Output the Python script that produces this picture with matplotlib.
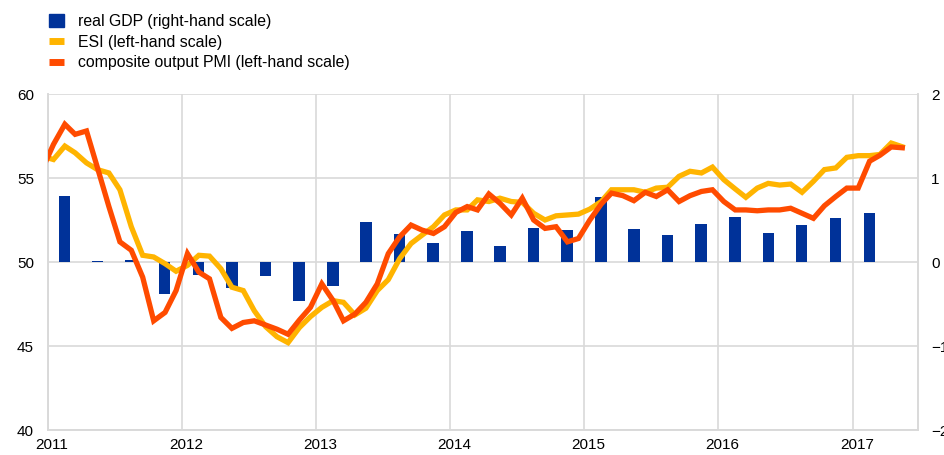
import matplotlib
matplotlib.use('Agg')
import matplotlib.pyplot as plt
import matplotlib.dates as mdates
import matplotlib.transforms as mtransforms
from matplotlib.patches import Patch
from matplotlib.lines import Line2D
import pandas as pd
import numpy as np

plt.rcParams['font.family'] = ['Liberation Sans', 'DejaVu Sans']

# monthly data, Dec 2010 - May 2017
pmi = [55.5, 57.0, 58.2, 57.6, 57.8, 55.6, 53.3, 51.2, 50.7, 49.1, 46.5, 47.0, 48.3,
       50.5, 49.4, 49.0, 46.7, 46.05, 46.4, 46.5, 46.25, 46.0, 45.7, 46.55, 47.3,
       48.7, 47.7, 46.5, 46.9, 47.6, 48.7, 50.5, 51.5, 52.2, 51.9, 51.7, 52.1,
       52.95, 53.3, 53.1, 54.05, 53.5, 52.8, 53.8, 52.5, 52.0, 52.1, 51.2, 51.4,
       52.5, 53.45, 54.1, 53.95, 53.65, 54.15, 53.9, 54.3, 53.6, 53.95, 54.2, 54.3,
       53.6, 53.1, 53.1, 53.05, 53.1, 53.1, 53.2, 52.9, 52.6, 53.35, 53.9, 54.4,
       54.4, 56.0, 56.35, 56.85, 56.8]
esi = [56.3, 56.1, 56.9, 56.5, 55.9, 55.5, 55.3, 54.3, 52.1, 50.4, 50.3, 49.9, 49.45,
       49.8, 50.4, 50.35, 49.6, 48.5, 48.3, 47.1, 46.15, 45.55, 45.2, 46.1, 46.75,
       47.3, 47.7, 47.6, 46.85, 47.25, 48.3, 48.95, 50.2, 51.1, 51.6, 52.1, 52.8,
       53.1, 53.1, 53.7, 53.6, 53.8, 53.6, 53.55, 52.9, 52.5, 52.75, 52.8, 52.85,
       53.15, 53.6, 54.3, 54.3, 54.3, 54.15, 54.4, 54.45, 55.1, 55.4, 55.3, 55.65,
       54.9, 54.35, 53.85, 54.4, 54.68, 54.58, 54.64, 54.15, 54.8, 55.5, 55.6, 56.23,
       56.33, 56.33, 56.4, 57.08, 56.86]

# quarterly real GDP growth, Q1 2011 - Q1 2017
gdp = [0.79, 0.01, 0.02, -0.38, -0.15, -0.31, -0.17, -0.47, -0.28, 0.48, 0.33, 0.23,
       0.37, 0.19, 0.41, 0.38, 0.77, 0.39, 0.32, 0.45, 0.53, 0.35, 0.44, 0.52, 0.58]

months = pd.date_range('2010-12-01', periods=len(pmi), freq='MS') + pd.Timedelta(days=15)
quarters = pd.date_range('2011-01-01', periods=len(gdp), freq='QS') + pd.Timedelta(days=45)

blue = '#003299'
yellow = '#ffb400'
orange = '#ff4b00'
gridc = '#d9d9d9'

fig = plt.figure(figsize=(9.44, 4.55), dpi=100)
ax = fig.add_axes([0.0508, 0.0549, 0.9217, 0.7385])
ax2 = ax.twinx()

# bars on the right-hand scale (drawn underneath)
ax.bar(quarters, gdp, width=31, color=blue, zorder=2)
ax.set_ylim(-2, 2)
ax.set_yticks([-2, -1, 0, 1, 2])
ax.yaxis.tick_right()

# lines on the left-hand scale
ax2.plot(months, esi, color=yellow, lw=3.8, solid_joinstyle='miter', zorder=3)
ax2.plot(months, pmi, color=orange, lw=3.8, solid_joinstyle='miter', zorder=4)
ax2.set_ylim(40, 60)
ax2.set_yticks([40, 45, 50, 55, 60])
ax2.yaxis.tick_left()

ax.set_xlim(pd.Timestamp('2011-01-01'), pd.Timestamp('2017-06-28'))
ax.xaxis.set_major_locator(mdates.YearLocator())
ax.xaxis.set_major_formatter(mdates.DateFormatter('%Y'))

ax.grid(True, color=gridc, lw=1.2, zorder=0)
ax.set_axisbelow(True)
for a in (ax, ax2):
    for s in a.spines.values():
        s.set_color(gridc)
        s.set_linewidth(1.2)
    a.spines['top'].set_visible(False)
    a.tick_params(length=0, labelsize=11, colors='black')

ax.tick_params(axis='y', pad=9.5)
ax2.tick_params(axis='y', pad=10)
ax.tick_params(axis='x', pad=6)
offset = mtransforms.ScaledTranslation(4 / 100, 0, fig.dpi_scale_trans)
for lab in ax.get_xticklabels():
    lab.set_transform(lab.get_transform() + offset)

handles = [Patch(color=blue),
           Line2D([], [], color=yellow, lw=5, solid_capstyle='butt'),
           Line2D([], [], color=orange, lw=5, solid_capstyle='butt')]
labels = ['real GDP (right-hand scale)', 'ESI (left-hand scale)',
          'composite output PMI (left-hand scale)']
fig.legend(handles, labels, loc='upper left', bbox_to_anchor=(0.042, 0.99),
           frameon=False, fontsize=11.4, handlelength=0.95, handleheight=0.85,
           handletextpad=0.85, labelspacing=0.36, borderaxespad=0.2)

fig.savefig('out.png', dpi=100)
